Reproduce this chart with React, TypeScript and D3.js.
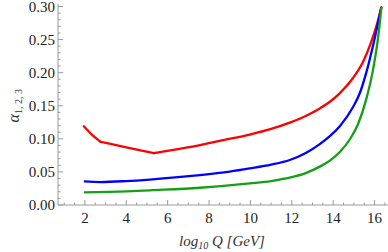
import React from 'react';
import {scaleLinear, line, curveMonotoneX, range} from 'd3';

// log10 Q values and alpha readings, per coupling
const redQ = [1.95, 2.35, 2.76, 4.0, 5.33, 6.5, 7.56, 8.5, 9.97, 11.0, 11.9, 12.7, 13.35, 13.84, 14.3, 14.96, 15.44, 15.8, 16.1, 16.33];
const redA = [0.119, 0.106, 0.0955, 0.0872, 0.0784, 0.0845, 0.0905, 0.097, 0.1065, 0.115, 0.1245, 0.135, 0.146, 0.156, 0.1684, 0.192, 0.216, 0.243, 0.2715, 0.299];
const redKinks = [2.76, 5.33];

const blueQ = [1.95, 2.76, 4.0, 5.14, 6.5, 7.56, 9.0, 9.97, 11.0, 11.9, 12.7, 13.35, 13.84, 14.32, 14.96, 15.3, 15.6, 16.0, 16.33];
const blueA = [0.0357, 0.0347, 0.0362, 0.0385, 0.042, 0.0452, 0.0505, 0.0553, 0.061, 0.068, 0.079, 0.092, 0.104, 0.119, 0.148, 0.170, 0.200, 0.251, 0.299];

const greenQ = [1.95, 4.0, 5.14, 7.56, 9.97, 11.0, 11.9, 12.7, 13.35, 13.84, 14.32, 14.8, 15.2, 15.6, 15.93, 16.2, 16.33];
const greenA = [0.0191, 0.0205, 0.0222, 0.0261, 0.0327, 0.0362, 0.0412, 0.0485, 0.058, 0.067, 0.080, 0.099, 0.122, 0.160, 0.205, 0.260, 0.299];

const xTicks = [2, 4, 6, 8, 10, 12, 14, 16];
const yTicks = [0, 0.05, 0.1, 0.15, 0.2, 0.25, 0.3];

const W = 388, H = 252;

export default function App() {
  const x = scaleLinear().domain([0.7, 16.65]).range([58, 388]);
  const y = scaleLinear().domain([0, 0.30]).range([205, 6.5]);
  const gen = line<[number, number]>().x(d => x(d[0])).y(d => y(d[1])).curve(curveMonotoneX);

  const pts = (qs: number[], as: number[]) => qs.map((q, i) => [q, as[i]] as [number, number]);
  // split the red curve at its kinks so the corners stay sharp
  const redPts = pts(redQ, redA);
  const bounds = [redQ[0], ...redKinks, redQ[redQ.length - 1]];
  const redSegs = bounds.slice(1).map((b, i) => redPts.filter(p => p[0] >= bounds[i] && p[0] <= b));

  const xMinor = range(1, 16.6, 0.5).filter(v => !xTicks.includes(v));
  const yMinor = range(0, 0.301, 0.01).map(v => +v.toFixed(2)).filter(v => !yTicks.some(t => Math.abs(t - v) < 1e-6));

  const axisCol = '#9a9a9a';
  const font = "'Liberation Serif', 'Times New Roman', serif";
  const x0 = x.range()[0];

  return (
    <div style={{position: 'absolute', left: 0, top: 0}}>
      <svg width={W} height={H} style={{display: 'block', background: '#fff'}}>
        {/* axes */}
        <line x1={x0} x2={W} y1={y(0)} y2={y(0)} stroke={axisCol} strokeWidth={1} />
        <line x1={x0} x2={x0} y1={y(0)} y2={y(0.304)} stroke={axisCol} strokeWidth={1} />
        {xTicks.map(t => (
          <g key={'xt' + t}>
            <line x1={x(t)} x2={x(t)} y1={y(0)} y2={y(0) - 5} stroke={axisCol} />
            <text x={x(t)} y={y(0) + 18} textAnchor="middle" fontFamily={font} fontSize={15} fill="#222">{t}</text>
          </g>
        ))}
        {xMinor.map(t => (
          <line key={'xm' + t} x1={x(t)} x2={x(t)} y1={y(0)} y2={y(0) - 2.5} stroke={axisCol} />
        ))}
        {yTicks.map(t => (
          <g key={'yt' + t}>
            <line x1={x0} x2={x0 + 5} y1={y(t)} y2={y(t)} stroke={axisCol} />
            <text x={x0 - 3} y={y(t) + 5} textAnchor="end" fontFamily={font} fontSize={15} fill="#222">{t.toFixed(2)}</text>
          </g>
        ))}
        {yMinor.map(t => (
          <line key={'ym' + t} x1={x0} x2={x0 + 2.5} y1={y(t)} y2={y(t)} stroke={axisCol} />
        ))}

        {/* curves */}
        {redSegs.map((s, i) => (
          <path key={'r' + i} d={gen(s) || ''} fill="none" stroke="#ff0000" strokeWidth={2.3} strokeLinejoin="round" strokeLinecap="round" />
        ))}
        <path d={gen(pts(blueQ, blueA)) || ''} fill="none" stroke="#0000ff" strokeWidth={2.3} />
        <path d={gen(pts(greenQ, greenA)) || ''} fill="none" stroke="#14a014" strokeWidth={2.3} />

        {/* titles */}
        <text transform={`translate(19,${y(0.15)}) rotate(-90)`} textAnchor="middle" fontFamily={font} fontSize={16} fill="#333">
          <tspan fontStyle="italic">α</tspan>
          <tspan fontSize={10} dy={3}>1, 2, 3</tspan>
        </text>
        <text x={222} y={246} textAnchor="middle" fontFamily={font} fontSize={15} fontStyle="italic" fill="#333">
          log<tspan fontSize={10} dy={3}>10</tspan><tspan dy={-3}> Q [GeV]</tspan>
        </text>
      </svg>
    </div>
  );
}
